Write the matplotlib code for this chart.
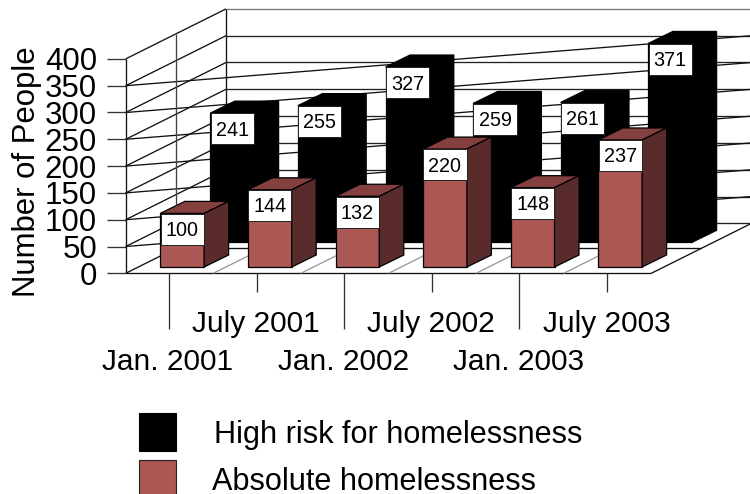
import matplotlib
matplotlib.use('Agg')
import matplotlib.pyplot as plt
from matplotlib.patches import Polygon, Rectangle

plt.rcParams['font.family'] = ['Liberation Sans', 'DejaVu Sans']

# данные
periods_jan = ['Jan. 2001', 'Jan. 2002', 'Jan. 2003']
periods_july = ['July 2001', 'July 2002', 'July 2003']
high_risk = [241, 255, 327, 259, 261, 371]
absolute = [100, 144, 132, 220, 148, 237]
y_ticks = [0, 50, 100, 150, 200, 250, 300, 350, 400]
legend_labels = ['High risk for homelessness', 'Absolute homelessness']

# геометрия псевдо-3D в пикселях картинки
X0, Y0 = 125.7, 273.3
UNIT_Y = 0.536
STEP_X = 87.6
N_CAT = 6
DEPTH_X, DEPTH_Y = 100.3, -50.0
BAR_W = 43.8
BAR_DX, BAR_DY = 24.5, -12.0

RED_FRONT = '#ab5754'
RED_TOP = '#84403f'
RED_SIDE = '#5a2b2b'
LINE = '#111111'
LW = 0.95


def px(cat, value=0, depth=0):
    # cat - позиция по категориям, value - значение, depth - глубина от 0 до 1
    return (X0 + cat * STEP_X + depth * DEPTH_X,
            Y0 - value * UNIT_Y + depth * DEPTH_Y)


def seg(ax, p1, p2, color=LINE, lw=LW, z=1):
    ax.plot([p1[0], p2[0]], [p1[1], p2[1]], color=color, lw=lw, zorder=z,
            solid_capstyle='butt')


def draw_bar(ax, left, base_y, value, front, top, side, z):
    h = value * UNIT_Y
    r = left + BAR_W
    t = base_y - h
    ec = 'black'
    ax.add_patch(Polygon([(left, base_y), (r, base_y), (r, t), (left, t)],
                         fc=front, ec=ec, lw=0.9, zorder=z))
    ax.add_patch(Polygon([(left, t), (r, t), (r + BAR_DX, t + BAR_DY), (left + BAR_DX, t + BAR_DY)],
                         fc=top, ec=ec, lw=0.9, zorder=z))
    ax.add_patch(Polygon([(r, base_y), (r + BAR_DX, base_y + BAR_DY), (r + BAR_DX, t + BAR_DY), (r, t)],
                         fc=side, ec=ec, lw=0.9, zorder=z))
    # подпись значения в белой рамке
    ax.add_patch(Rectangle((left + 0.3, t + 0.3), BAR_W - 0.6, 31, fc='white', ec='#222222', lw=0.7, zorder=z + 0.1))
    ax.text(left + BAR_W / 2, t + 17, str(value), ha='center', va='center', fontsize=14.2,
            color='black', zorder=z + 0.2)


fig = plt.figure(figsize=(7.5, 4.94), dpi=100)
ax = fig.add_axes([0, 0, 1, 1])
ax.set_xlim(0, 750)
ax.set_ylim(494, 0)
ax.axis('off')

# стенки и сетка
for v in y_ticks:
    seg(ax, px(0, v), px(0, v, 1))
    seg(ax, px(0, v, 1), px(N_CAT, v, 1), color='#222222' if v < 400 else '#777777')
    seg(ax, (107, px(0, v)[1]), px(0, v), color='#333333')
    if 0 < v < 400:
        seg(ax, px(0, v), px(N_CAT, v, 1))
seg(ax, px(0, 0), px(0, 400))
seg(ax, px(0, 0, 1), px(0, 400, 1))
seg(ax, px(0, 0, 0.5), px(0, 400, 0.5), color='#444444')
seg(ax, px(0, 0, 0.5), px(N_CAT, 0, 0.5))
seg(ax, px(0, 0), px(N_CAT, 0))
seg(ax, px(N_CAT, 0), px(N_CAT, 0, 1))
for i in range(1, N_CAT):
    seg(ax, px(i, 0), px(i, 0, 0.5), color='#999999')

# столбцы: задний ряд, затем передний
for i, v in enumerate(high_risk):
    draw_bar(ax, X0 + 84.6 + i * STEP_X, 242.3, v, 'black', 'black', 'black', 3 + i * 0.01)
for i, v in enumerate(absolute):
    draw_bar(ax, X0 + 34.6 + i * STEP_X, 267.0, v, RED_FRONT, RED_TOP, RED_SIDE, 4 + i * 0.01)

# подписи оси Y
for v in y_ticks:
    ax.text(97, px(0, v)[1], str(v), ha='right', va='center_baseline', fontsize=22.5, color='black')
ax.text(27, 171.5, 'Number of People', rotation=90, ha='center', va='center', fontsize=22.4, color='black')

# подписи и засечки оси X
for i in range(N_CAT):
    x = px(i + 0.5)[0] - 0.5
    seg(ax, (x, Y0), (x, 329 if i % 2 == 0 else 292), color='#333333')
for i, lab in enumerate(periods_july):
    ax.text(px(2 * i + 1.5)[0] - 1, 324, lab, ha='center', va='center', fontsize=21.5, color='black')
for i, lab in enumerate(periods_jan):
    ax.text(px(2 * i + 0.5)[0] - 1.5, 362, lab, ha='center', va='center', fontsize=21.5, color='black')

# легенда
ax.add_patch(Rectangle((139, 413), 37, 38, fc='black', ec='black', lw=0.8))
ax.add_patch(Rectangle((139, 460), 37, 38, fc=RED_FRONT, ec='#222222', lw=0.8))
ax.text(213.5, 435, legend_labels[0], ha='left', va='center', fontsize=22.1, color='black')
ax.text(212, 482, legend_labels[1], ha='left', va='center', fontsize=22.1, color='black')

fig.savefig('out.png', dpi=100)
